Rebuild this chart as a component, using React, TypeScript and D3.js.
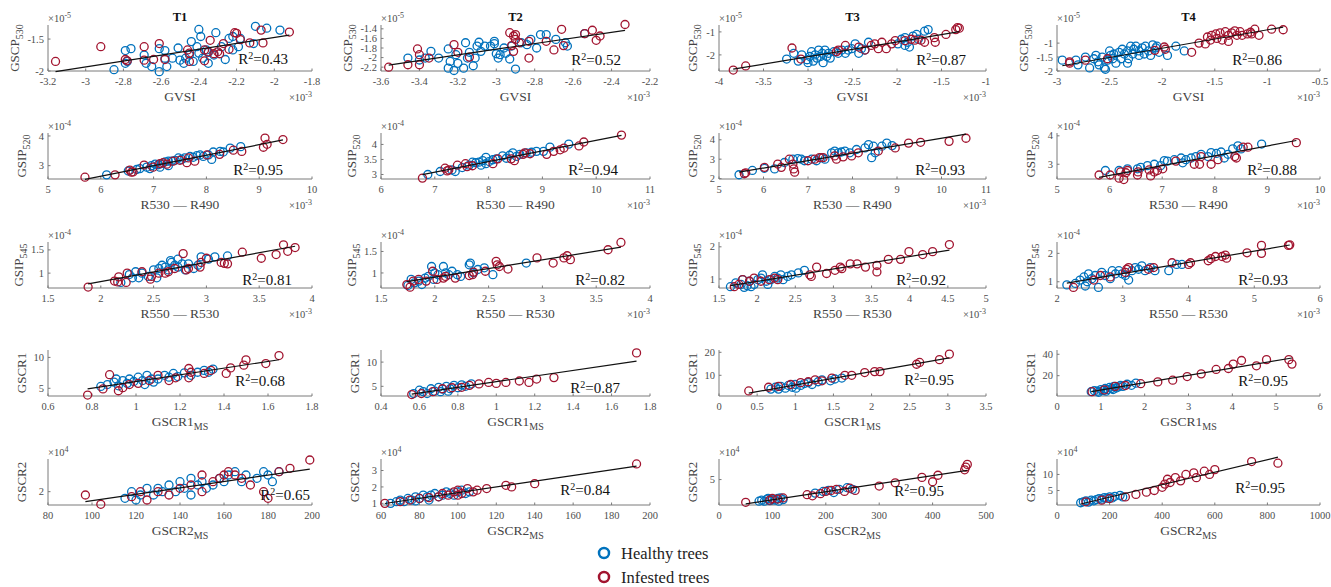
import React from 'react';
import * as d3 from 'd3';

type Pt = [number, number];

// ---------- Row 1: GSCP530 (×1e-5) vs GVSI (×1e-3) ----------
const r1T1Healthy: Pt[] = [[-2.85,-1.98],[-2.79,-1.88],[-2.79,-1.68],[-2.76,-1.65],[-2.78,-1.85],[-2.69,-1.75],[-2.68,-1.88],[-2.65,-1.93],[-2.61,-2.01],[-2.61,-1.65],[-2.58,-1.68],[-2.57,-1.93],[-2.58,-1.8],[-2.51,-1.64],[-2.5,-1.83],[-2.48,-1.88],[-2.45,-1.75],[-2.44,-1.54],[-2.41,-1.62],[-2.4,-1.35],[-2.39,-1.46],[-2.4,-1.72],[-2.38,-1.8],[-2.36,-1.67],[-2.35,-1.88],[-2.31,-1.4],[-2.32,-1.75],[-2.28,-1.62],[-2.26,-1.82],[-2.24,-1.49],[-2.22,-1.46],[-2.19,-1.62],[-2.18,-1.49],[-2.22,-1.67],[-2.1,-1.3],[-2.04,-1.33],[-2.11,-1.57],[-1.97,-1.36],[-2.47,-1.8],[-2.54,-1.8],[-2.43,-1.85],[-2.35,-1.71]];
const r1T1Infested: Pt[] = [[-3.16,-1.85],[-2.92,-1.62],[-2.79,-1.82],[-2.78,-1.84],[-2.69,-1.62],[-2.69,-1.83],[-2.64,-1.82],[-2.61,-1.57],[-2.58,-1.82],[-2.46,-1.67],[-2.45,-1.85],[-2.45,-1.72],[-2.37,-1.84],[-2.35,-1.7],[-2.34,-1.52],[-2.32,-1.73],[-2.3,-1.7],[-2.27,-1.57],[-2.24,-1.66],[-2.21,-1.4],[-2.2,-1.41],[-2.18,-1.51],[-2.13,-1.56],[-2.07,-1.36],[-2.06,-1.56],[-1.92,-1.39],[-2.37,-1.67],[-2.29,-1.73]];
const r1T2Healthy: Pt[] = [[-3.46,-2.01],[-3.4,-2.05],[-3.37,-2.01],[-3.34,-1.87],[-3.3,-2.01],[-3.25,-1.82],[-3.25,-2.22],[-3.24,-2.08],[-3.22,-2.27],[-3.21,-1.94],[-3.2,-2.12],[-3.17,-2.22],[-3.16,-1.69],[-3.15,-2.01],[-3.14,-1.89],[-3.12,-2.17],[-3.11,-2.01],[-3.1,-1.76],[-3.09,-1.68],[-3.08,-1.87],[-3.06,-1.76],[-3.03,-1.76],[-3.01,-1.71],[-3.01,-1.66],[-3.0,-1.92],[-2.99,-2.01],[-2.98,-1.94],[-2.96,-1.8],[-2.95,-1.91],[-2.93,-2.03],[-2.92,-1.76],[-2.9,-2.24],[-2.87,-1.69],[-2.84,-1.73],[-2.82,-1.62],[-2.79,-1.8],[-2.77,-1.52],[-2.74,-1.52],[-2.69,-1.62],[-2.64,-1.69],[-2.63,-1.76],[-2.54,-1.5]];
const r1T2Infested: Pt[] = [[-3.56,-2.2],[-3.46,-2.15],[-3.41,-1.82],[-3.4,-1.94],[-3.4,-2.15],[-3.35,-2.01],[-3.22,-1.73],[-3.2,-1.89],[-3.14,-1.99],[-2.93,-1.48],[-2.91,-1.55],[-2.9,-1.52],[-2.9,-1.62],[-2.92,-1.75],[-2.91,-1.87],[-2.88,-1.69],[-2.83,-2.01],[-2.83,-1.66],[-2.74,-1.66],[-2.7,-1.84],[-2.66,-1.41],[-2.65,-1.75],[-2.54,-1.5],[-2.5,-1.43],[-2.48,-1.64],[-2.46,-1.55],[-2.33,-1.31]];
const r1T3Healthy: Pt[] = [[-3.24,-2.18],[-3.16,-1.93],[-3.11,-2.27],[-3.07,-2.0],[-3.01,-2.21],[-3.0,-2.34],[-2.98,-2.07],[-2.96,-1.86],[-2.94,-2.27],[-2.92,-2.0],[-2.9,-2.14],[-2.88,-1.79],[-2.86,-2.07],[-2.84,-1.93],[-2.83,-2.34],[-2.81,-1.79],[-2.79,-2.07],[-2.77,-1.93],[-2.75,-2.14],[-2.71,-1.86],[-2.66,-1.93],[-2.62,-1.79],[-2.58,-1.93],[-2.55,-1.79],[-2.51,-1.73],[-2.47,-1.52],[-2.43,-1.93],[-2.4,-1.73],[-2.36,-1.79],[-2.32,-1.45],[-1.99,-1.52],[-1.95,-1.32],[-1.91,-1.25],[-1.88,-1.45],[-1.82,-1.18],[-1.78,-1.11],[-1.76,-1.32],[-1.69,-0.97],[-1.65,-0.9],[-1.86,-1.66],[-1.91,-1.59]];
const r1T3Infested: Pt[] = [[-3.84,-2.66],[-3.7,-2.48],[-3.18,-1.7],[-3.08,-2.18],[-2.66,-1.79],[-2.58,-1.59],[-2.43,-1.66],[-2.29,-1.59],[-2.25,-1.52],[-2.21,-1.73],[-2.17,-1.45],[-2.12,-1.73],[-2.06,-1.52],[-2.02,-1.38],[-1.91,-1.38],[-1.84,-1.32],[-1.73,-1.36],[-1.58,-1.25],[-1.45,-1.11],[-1.34,-0.9],[-1.32,-0.81],[-1.3,-0.84],[-1.57,-1.45],[-1.69,-1.45],[-1.8,-1.36],[-2.36,-1.79],[-2.68,-1.86]];
const r1T4Healthy: Pt[] = [[-2.95,-1.61],[-2.82,-1.61],[-2.8,-1.78],[-2.73,-1.5],[-2.69,-1.89],[-2.65,-1.56],[-2.63,-1.44],[-2.61,-1.67],[-2.6,-1.78],[-2.57,-1.5],[-2.55,-1.89],[-2.54,-1.94],[-2.52,-1.61],[-2.5,-1.28],[-2.49,-1.44],[-2.47,-1.56],[-2.46,-1.39],[-2.44,-1.72],[-2.41,-1.33],[-2.39,-1.56],[-2.38,-1.22],[-2.36,-1.39],[-2.33,-1.28],[-2.32,-1.56],[-2.3,-1.11],[-2.28,-1.39],[-2.27,-1.22],[-2.25,-1.11],[-2.22,-1.28],[-2.19,-1.17],[-2.17,-1.39],[-2.16,-1.11],[-2.13,-1.28],[-2.11,-1.44],[-2.09,-1.06],[-2.06,-1.17],[-2.05,-1.11],[-2.03,-1.33],[-1.95,-1.44],[-1.87,-1.11],[-1.79,-1.28],[-2.22,-1.44],[-2.33,-1.72]];
const r1T4Infested: Pt[] = [[-2.88,-1.67],[-2.88,-1.72],[-2.73,-1.61],[-2.52,-1.56],[-2.07,-1.26],[-1.98,-1.14],[-1.97,-1.22],[-1.72,-1.33],[-1.65,-1.0],[-1.59,-1.03],[-1.57,-0.78],[-1.54,-0.89],[-1.53,-0.72],[-1.49,-0.67],[-1.48,-0.83],[-1.45,-0.63],[-1.43,-0.89],[-1.4,-0.59],[-1.37,-0.72],[-1.34,-0.63],[-1.31,-0.56],[-1.29,-0.72],[-1.26,-0.59],[-1.24,-0.72],[-1.19,-0.67],[-1.16,-0.61],[-1.15,-0.67],[-1.12,-0.5],[-1.08,-0.72],[-0.96,-0.5],[-0.85,-0.52],[-1.37,-0.94]];

// ---------- Row 2: GSIP520 (×1e-4) vs R530 — R490 (×1e-3) ----------
const r2T1Healthy: Pt[] = [[6.11,2.69],[6.52,2.82],[6.68,2.87],[6.74,2.9],[6.87,2.95],[6.96,3.0],[7.03,3.05],[7.09,3.03],[7.15,3.07],[7.22,3.13],[7.28,3.15],[7.34,3.15],[7.41,3.18],[7.47,3.26],[7.53,3.21],[7.59,3.26],[7.69,3.31],[7.75,3.28],[7.82,3.34],[7.88,3.36],[7.94,3.31],[8.04,3.36],[8.1,3.21],[8.13,3.46],[8.26,3.48],[8.32,3.46],[8.45,3.59],[8.65,3.64],[7.28,3.0],[7.12,2.95],[6.93,2.9]];
const r2T1Infested: Pt[] = [[5.7,2.61],[6.27,2.69],[6.55,2.85],[6.58,2.78],[6.61,2.79],[6.82,3.02],[6.99,2.95],[7.12,3.07],[7.18,3.1],[7.25,3.05],[7.37,3.15],[7.5,3.18],[7.63,3.1],[7.66,3.26],[7.78,3.15],[8.01,3.36],[8.25,3.38],[8.51,3.52],[8.67,3.48],[9.08,3.62],[9.11,3.93],[9.15,3.72],[9.45,3.88]];
const r2T2Healthy: Pt[] = [[6.87,3.0],[7.1,3.1],[7.32,3.15],[7.38,3.1],[7.51,3.23],[7.64,3.31],[7.76,3.39],[7.82,3.41],[7.86,3.31],[7.89,3.46],[7.95,3.36],[8.01,3.43],[8.08,3.49],[8.14,3.52],[8.26,3.62],[8.33,3.54],[8.39,3.64],[8.45,3.72],[8.52,3.6],[8.58,3.67],[8.7,3.72],[8.8,3.74],[8.89,3.77],[9.02,3.77],[9.14,3.91],[9.49,4.01],[7.95,3.57],[7.7,3.41]];
const r2T2Infested: Pt[] = [[6.77,2.88],[7.19,3.21],[7.23,3.12],[7.26,3.15],[7.42,3.31],[7.57,3.36],[7.6,3.26],[7.7,3.29],[8.08,3.36],[8.17,3.52],[8.42,3.52],[8.48,3.46],[8.64,3.67],[8.67,3.72],[8.77,3.69],[9.08,3.67],[9.21,3.77],[9.33,3.82],[9.4,3.88],[9.68,3.95],[9.77,4.08],[10.47,4.31]];
const r2T3Healthy: Pt[] = [[5.45,2.2],[5.75,2.42],[6.02,2.53],[6.25,2.5],[6.47,2.83],[6.66,3.0],[6.77,3.03],[6.85,3.0],[6.92,2.92],[7.08,3.0],[7.19,2.92],[7.3,3.08],[7.38,3.0],[7.53,3.33],[7.6,3.42],[7.68,3.33],[7.75,3.37],[7.83,3.42],[7.94,3.33],[8.09,3.5],[8.28,3.58],[8.36,3.75],[8.47,3.67],[8.51,3.33],[8.66,3.67],[8.77,3.83],[8.89,3.7],[8.43,3.08]];
const r2T3Infested: Pt[] = [[5.57,2.25],[5.6,2.3],[6.02,2.58],[6.32,2.75],[6.4,2.58],[6.58,3.0],[6.66,2.75],[6.68,2.5],[6.7,2.33],[7.0,2.92],[7.15,3.0],[7.26,3.08],[7.34,3.08],[7.6,3.17],[7.64,3.0],[7.79,3.12],[7.98,3.17],[8.13,3.33],[8.58,3.42],[8.96,3.58],[9.26,3.83],[9.53,3.87],[10.17,3.92],[10.55,4.08]];
const r2T4Healthy: Pt[] = [[5.92,2.78],[6.18,2.78],[6.34,2.84],[6.53,2.84],[6.59,2.89],[6.72,2.95],[6.85,3.0],[6.97,2.95],[7.04,3.13],[7.1,3.11],[7.23,3.16],[7.36,3.22],[7.45,3.16],[7.55,3.22],[7.64,3.27],[7.74,3.35],[7.87,3.27],[7.93,3.41],[8.03,3.38],[8.12,3.43],[8.25,3.35],[8.34,3.54],[8.44,3.65],[8.5,3.54],[8.89,3.71],[7.39,3.05],[8.18,3.22]];
const r2T4Infested: Pt[] = [[5.8,2.62],[6.01,2.62],[6.18,2.51],[6.27,2.46],[6.21,2.73],[6.31,2.7],[6.34,2.78],[6.53,2.62],[6.54,2.73],[6.75,2.8],[6.78,2.59],[6.85,2.73],[6.91,2.78],[7.01,2.84],[7.26,3.11],[7.61,3.0],[7.71,3.0],[7.74,3.27],[7.93,3.0],[8.06,3.16],[8.38,3.27],[8.41,3.22],[8.54,3.6],[8.63,3.6],[9.55,3.76]];

// ---------- Row 3: GSIP545 (×1e-4) vs R550 — R530 (×1e-3) ----------
const r3T1Healthy: Pt[] = [[2.19,0.8],[2.27,0.97],[2.33,1.03],[2.36,0.9],[2.39,1.0],[2.45,0.93],[2.5,1.07],[2.55,1.1],[2.58,1.17],[2.61,1.13],[2.64,1.07],[2.67,1.23],[2.7,1.17],[2.73,1.13],[2.77,1.2],[2.8,1.07],[2.83,1.2],[2.88,1.1],[2.92,1.17],[2.95,1.35],[3.02,1.3],[3.08,1.35],[3.2,1.37],[2.73,1.3],[2.53,0.9],[2.66,1.27],[2.3,0.9]];
const r3T1Infested: Pt[] = [[1.88,0.7],[2.13,0.83],[2.17,0.92],[2.16,0.81],[2.24,0.8],[2.25,1.0],[2.39,1.03],[2.47,0.87],[2.48,0.93],[2.55,1.0],[2.61,1.0],[2.64,1.03],[2.7,1.1],[2.78,1.42],[2.81,1.07],[2.83,1.1],[2.94,1.13],[2.95,1.23],[3.0,1.32],[3.14,1.23],[3.17,1.21],[3.2,1.2],[3.34,1.45],[3.52,1.32],[3.66,1.4],[3.73,1.61],[3.77,1.47],[3.84,1.55]];
const r3T2Healthy: Pt[] = [[1.75,0.71],[1.78,0.85],[1.81,0.77],[1.85,0.81],[1.88,0.73],[1.91,0.88],[1.94,0.92],[1.97,1.15],[1.99,0.85],[2.0,1.0],[2.03,0.96],[2.08,1.15],[2.1,1.0],[2.13,0.96],[2.16,1.04],[2.21,0.96],[2.24,0.92],[2.32,1.19],[2.33,1.23],[2.36,1.0],[2.4,1.08],[2.46,1.12],[2.54,0.96],[2.85,1.23]];
const r3T2Infested: Pt[] = [[1.74,0.73],[1.77,0.67],[1.8,0.81],[1.85,0.85],[1.92,0.81],[1.98,1.04],[2.02,0.85],[2.08,0.88],[2.1,0.92],[2.19,0.88],[2.32,0.94],[2.35,0.96],[2.36,1.02],[2.47,1.04],[2.57,1.27],[2.58,1.19],[2.6,1.15],[2.68,1.09],[2.95,1.35],[3.1,1.23],[3.2,1.35],[3.23,1.4],[3.26,1.31],[3.61,1.54],[3.73,1.71]];
const r3T3Healthy: Pt[] = [[1.65,0.76],[1.72,0.88],[1.79,0.83],[1.83,0.74],[1.87,0.79],[1.9,0.93],[1.92,0.76],[1.96,0.83],[2.01,0.98],[2.05,1.03],[2.07,1.13],[2.12,0.93],[2.18,0.98],[2.23,1.08],[2.27,1.03],[2.31,1.13],[2.34,0.98],[2.4,1.08],[2.45,1.13],[2.54,1.19],[2.62,1.27],[1.81,0.98],[2.14,0.83]];
const r3T3Infested: Pt[] = [[1.7,0.76],[1.76,0.83],[1.81,0.98],[1.9,0.93],[1.96,1.03],[2.05,0.93],[2.16,0.98],[2.23,1.03],[2.27,0.98],[2.69,1.13],[2.71,1.08],[2.78,1.37],[2.91,1.17],[3.02,1.27],[3.09,1.37],[3.11,1.32],[3.22,1.47],[3.31,1.47],[3.42,1.37],[3.57,1.22],[3.57,1.42],[3.72,1.61],[3.88,1.61],[3.99,1.85],[4.17,1.76],[4.3,1.85],[4.52,2.07]];
const r3T4Healthy: Pt[] = [[2.15,0.89],[2.28,0.94],[2.35,1.06],[2.41,1.17],[2.46,1.0],[2.48,1.28],[2.53,1.11],[2.58,1.22],[2.63,0.8],[2.68,1.33],[2.73,1.22],[2.81,1.11],[2.84,1.39],[2.89,1.28],[2.94,1.39],[2.99,1.28],[3.04,1.22],[3.09,1.06],[3.14,1.39],[3.19,1.5],[3.24,1.44],[3.29,1.56],[3.34,1.39],[3.42,1.5],[3.49,1.39],[3.7,1.39],[3.82,1.61],[3.9,1.61],[2.43,0.85]];
const r3T4Infested: Pt[] = [[2.25,0.8],[2.56,1.06],[2.66,1.22],[2.81,1.17],[3.04,1.33],[3.06,1.44],[3.09,1.5],[3.39,1.44],[3.47,1.5],[3.75,1.67],[4.0,1.61],[4.03,1.67],[4.3,1.74],[4.34,1.81],[4.41,1.89],[4.51,1.89],[4.56,1.94],[4.58,1.83],[4.89,2.02],[5.11,2.28],[5.11,2.0],[5.52,2.28],[5.54,2.3]];

// ---------- Row 4: GSCR1 vs GSCR1_MS ----------
const r4T1Healthy: Pt[] = [[0.84,5.3],[0.87,5.6],[0.9,6.0],[0.92,5.4],[0.94,6.25],[0.96,5.8],[0.97,6.5],[0.99,6.1],[1.01,6.8],[1.03,6.25],[1.05,7.1],[1.07,6.5],[1.08,6.0],[1.1,6.5],[1.13,7.1],[1.15,6.8],[1.17,7.4],[1.19,6.9],[1.22,7.5],[1.25,7.1],[1.28,7.6],[1.31,7.9],[1.33,7.6],[1.35,8.1],[1.04,5.6],[0.91,6.5]];
const r4T1Infested: Pt[] = [[0.78,3.9],[0.85,4.9],[0.88,7.2],[0.94,5.1],[0.97,5.6],[1.01,5.8],[1.06,6.25],[1.1,7.1],[1.15,6.25],[1.18,6.7],[1.24,8.2],[1.25,7.6],[1.31,7.4],[1.34,7.9],[1.41,7.4],[1.43,8.3],[1.49,8.75],[1.5,9.6],[1.59,9.0],[1.65,10.3],[1.24,6.7],[0.92,4.6]];
const r4T2Healthy: Pt[] = [[0.57,3.5],[0.6,4.2],[0.62,3.9],[0.66,4.5],[0.68,4.0],[0.7,4.8],[0.72,4.4],[0.74,5.0],[0.76,4.5],[0.78,5.2],[0.8,4.7],[0.82,5.3],[0.84,5.0],[0.87,5.5],[0.71,3.9],[0.64,3.5],[0.75,4.0]];
const r4T2Infested: Pt[] = [[0.56,3.3],[0.61,3.5],[0.67,3.9],[0.72,4.5],[0.77,4.7],[0.82,4.8],[0.86,5.2],[0.91,5.5],[0.96,5.8],[1.0,5.6],[1.05,5.8],[1.12,6.1],[1.17,5.8],[1.21,6.5],[1.3,6.8],[1.73,11.9]];
const r4T3Healthy: Pt[] = [[0.68,4.0],[0.74,4.8],[0.81,5.2],[0.87,4.4],[0.91,5.6],[0.96,4.8],[1.0,6.0],[1.07,5.6],[1.12,6.4],[1.17,6.8],[1.22,6.0],[1.3,7.2],[1.35,8.0],[1.46,7.6],[1.52,8.4],[1.61,8.8],[0.78,4.0],[1.01,4.4]];
const r4T3Infested: Pt[] = [[0.39,3.2],[0.65,4.8],[0.78,5.2],[0.94,6.0],[1.07,6.8],[1.17,7.2],[1.26,8.0],[1.35,7.6],[1.48,8.8],[1.65,10.0],[1.74,10.0],[1.91,11.2],[2.04,11.6],[2.11,11.6],[2.59,14.8],[2.63,15.6],[2.89,16.8],[3.02,19.2]];
const r4T4Healthy: Pt[] = [[0.78,5],[0.85,6],[0.92,5.5],[1.0,7],[1.05,6],[1.1,8],[1.15,7],[1.2,9],[1.25,8],[1.3,10],[1.35,8.5],[1.4,9.5],[1.45,11],[1.5,10],[1.6,12],[1.7,11],[1.8,13],[0.95,4.5],[1.12,5.5],[1.28,7.0]];
const r4T4Infested: Pt[] = [[0.8,5.0],[1.08,6.7],[1.33,10.0],[1.56,10.8],[1.91,12.5],[2.3,14.2],[2.64,15.8],[2.97,19.2],[3.29,21.7],[3.63,25.8],[3.91,26.7],[4.02,30.8],[4.21,34.2],[4.55,29.2],[4.78,35.0],[5.29,35.0],[5.36,30.8]];

// ---------- Row 5: GSCR2 (×1e4) vs GSCR2_MS ----------
const r5T1Healthy: Pt[] = [[115,1.8],[118,2.0],[122,1.9],[125,2.1],[128,1.9],[130,2.1],[132,2.0],[135,2.2],[138,2.0],[140,2.3],[142,2.1],[145,2.4],[145,1.9],[148,2.2],[150,2.3],[152,2.1],[155,2.2],[158,2.4],[160,2.3],[162,2.5],[165,2.6],[168,2.3],[170,2.5],[175,2.4],[178,2.6],[180,2.5],[182,2.3],[185,2.6],[120,1.75]];
const r5T1Infested: Pt[] = [[97,1.9],[104,1.62],[118,1.85],[122,2.0],[130,2.0],[135,1.9],[140,2.1],[145,2.2],[150,2.0],[155,2.3],[158,2.4],[160,2.5],[162,2.6],[165,2.5],[168,2.4],[172,2.2],[178,2.0],[180,1.8],[185,2.6],[190,2.7],[199,2.95],[150,2.5],[125,1.75]];
const r5T2Healthy: Pt[] = [[65,1.0],[68,1.1],[70,1.2],[72,1.1],[74,1.3],[76,1.2],[78,1.4],[80,1.3],[82,1.5],[84,1.4],[86,1.5],[88,1.6],[90,1.4],[92,1.5],[94,1.7],[96,1.6],[98,1.5],[100,1.7],[102,1.8],[104,1.6],[106,1.7],[85,1.2],[78,1.15]];
const r5T2Infested: Pt[] = [[62,1.0],[70,1.1],[75,1.2],[80,1.3],[85,1.35],[90,1.4],[92,1.6],[95,1.5],[98,1.7],[100,1.8],[102,1.6],[105,1.9],[108,1.7],[110,1.8],[115,1.9],[125,2.1],[128,2.0],[140,2.2],[193,3.4],[100,1.5]];
const r5T3Healthy: Pt[] = [[75,1.0],[80,1.2],[85,1.0],[90,1.4],[95,1.1],[100,1.3],[105,1.2],[110,1.5],[115,1.6],[120,1.3],[180,2.5],[195,2.8],[205,3.0],[215,2.6],[225,3.2],[240,3.5],[250,3.2],[92,1.5],[112,1.0]];
const r5T3Infested: Pt[] = [[50,0.8],[95,1.2],[100,1.5],[110,1.4],[120,1.6],[165,2.2],[175,2.0],[190,2.4],[200,2.8],[210,3.0],[220,3.2],[235,2.8],[245,3.4],[255,3.0],[300,3.8],[330,4.4],[380,5.4],[400,4.6],[460,6.8],[462,7.3],[465,7.8],[410,5.8]];
const r5T4Healthy: Pt[] = [[90,1.2],[100,1.5],[110,1.8],[120,1.4],[130,2.0],[140,1.8],[150,2.2],[160,2.5],[170,2.3],[180,2.8],[190,2.6],[200,3.0],[210,2.7],[220,3.2],[240,3.5],[250,3.0]];
const r5T4Infested: Pt[] = [[110,1.5],[170,2.0],[200,2.5],[260,3.0],[300,3.8],[340,4.5],[370,5.0],[400,6.0],[410,7.0],[420,8.5],[430,7.5],[450,9.0],[470,8.0],[490,10.0],[520,10.5],[530,9.0],[560,11.0],[580,10.0],[600,11.5],[740,14.0],[840,13.5]];

// ---------- labels & axes ----------
const titles = ['T1', 'T2', 'T3', 'T4'];
const rowYLabels: [string, string][] = [['GSCP', '530'], ['GSIP', '520'], ['GSIP', '545'], ['GSCR1', ''], ['GSCR2', '']];
const rowXLabels: [string, string][] = [['GVSI', ''], ['R530 — R490', ''], ['R550 — R530', ''], ['GSCR1', 'MS'], ['GSCR2', 'MS']];
const rowYExp = ['-5', '-4', '-4', '', '4'];
const rowXExp = ['-3', '-3', '-3', '', ''];
const r2Labels = ['0.43', '0.52', '0.87', '0.86', '0.95', '0.94', '0.93', '0.88', '0.81', '0.82', '0.92', '0.93', '0.68', '0.87', '0.95', '0.95', '0.65', '0.84', '0.95', '0.95'];

const xDomains: [number, number][] = [
  [-3.2, -1.8], [-3.6, -2.2], [-4, -1], [-3, -0.5],
  [5, 10], [6, 11], [5, 11], [5, 10],
  [1.5, 4], [1.5, 4], [1.5, 5], [2, 6],
  [0.6, 1.8], [0.4, 1.8], [0, 3.5], [0, 6],
  [80, 200], [60, 200], [0, 500], [0, 1000],
];
const xTickSteps = [0.2, 0.2, 0.5, 0.5, 1, 1, 1, 1, 0.5, 0.5, 0.5, 1, 0.2, 0.2, 0.5, 1, 20, 20, 100, 200];
const yDomains: [number, number][] = [
  [-2.0, -1.28], [-2.28, -1.32], [-2.7, -0.7], [-2.0, -0.35],
  [2.55, 4.1], [2.85, 4.38], [1.98, 4.35], [2.48, 4.1],
  [0.68, 1.67], [0.65, 1.72], [0.72, 2.15], [0.78, 2.4],
  [3.75, 11.2], [3.0, 12.5], [1, 21], [1, 44],
  [1.6, 2.98], [0.9, 3.7], [0.3, 8.8], [0.5, 14.8],
];
const yTickVals: number[][] = [
  [-2, -1.5], [-2.2, -2, -1.8, -1.6, -1.4], [-2, -1], [-2, -1.5, -1],
  [3, 4], [3, 3.5, 4], [2, 3, 4], [3, 4],
  [1, 1.5], [1, 1.5], [1, 2], [1, 2],
  [5, 10], [5, 10], [10, 20], [20, 40],
  [2], [1, 2, 3], [5], [5, 10],
];

const healthySets: Pt[][] = [
  r1T1Healthy, r1T2Healthy, r1T3Healthy, r1T4Healthy,
  r2T1Healthy, r2T2Healthy, r2T3Healthy, r2T4Healthy,
  r3T1Healthy, r3T2Healthy, r3T3Healthy, r3T4Healthy,
  r4T1Healthy, r4T2Healthy, r4T3Healthy, r4T4Healthy,
  r5T1Healthy, r5T2Healthy, r5T3Healthy, r5T4Healthy,
];
const infestedSets: Pt[][] = [
  r1T1Infested, r1T2Infested, r1T3Infested, r1T4Infested,
  r2T1Infested, r2T2Infested, r2T3Infested, r2T4Infested,
  r3T1Infested, r3T2Infested, r3T3Infested, r3T4Infested,
  r4T1Infested, r4T2Infested, r4T3Infested, r4T4Infested,
  r5T1Infested, r5T2Infested, r5T3Infested, r5T4Infested,
];

// ---------- layout ----------
const COLS: [number, number][] = [[48, 312], [381, 650], [719, 986], [1057, 1320]];
const ROW_BOTTOMS = [71, 179, 288, 396, 505];
const PLOT_H = 46;
const R2_RIGHT_OFFSET = [24, 29, 20, 38, 29, 32, 21, 23, 20, 25, 40, 32, 27, 30, 32, 32, 2, 40, 42, 35];
const R2_BASE_OFFSET = [7, 6, 6, 6, 4, 4, 4, 4, 3, 3, 3, 3, 10, 3, 11, 10, 5, 10, 9, 12];

const BLUE = '#0072BD';
const RED = '#A2142F';
const AXIS = '#7a7a7a';
const TICKTXT = '#4d4d4d';
const FONT = 'Liberation Serif, DejaVu Serif, serif';
const TICK_FS = 10.5;

const fmt = (v: number) => String(+v.toFixed(3));
// rough width of a tick label in px (Times-like metrics)
const labelWidth = (s: string) => s.split('').reduce((w, c) => w + (c === '.' ? 0.25 : c === '-' ? 0.33 : 0.5) * TICK_FS, 0);

function fitLine(pts: Pt[]): Pt[] {
  const mx = d3.mean(pts, p => p[0]) as number;
  const my = d3.mean(pts, p => p[1]) as number;
  const sxy = d3.sum(pts, p => (p[0] - mx) * (p[1] - my));
  const sxx = d3.sum(pts, p => (p[0] - mx) ** 2);
  const b = sxy / sxx;
  const a = my - b * mx;
  const [x0, x1] = d3.extent(pts, p => p[0]) as [number, number];
  return [[x0, a + b * x0], [x1, a + b * x1]];
}

function Panel({ idx }: { idx: number }) {
  const row = Math.floor(idx / 4);
  const col = idx % 4;
  const [left, right] = COLS[col];
  const bottom = ROW_BOTTOMS[row];
  const top = bottom - PLOT_H;
  const x = d3.scaleLinear().domain(xDomains[idx]).range([left, right]);
  const y = d3.scaleLinear().domain(yDomains[idx]).range([bottom, top]);
  const [d0, d1] = xDomains[idx];
  const step = xTickSteps[idx];
  const xt = d3.range(0, Math.round((d1 - d0) / step) + 1).map(i => d0 + i * step);
  const healthy = healthySets[idx];
  const infested = infestedSets[idx];
  const fit = fitLine([...healthy, ...infested]);
  const line = d3.line<Pt>().x(p => x(p[0])).y(p => y(p[1]));
  const [yl, ys] = rowYLabels[row];
  const [xl, xs] = rowXLabels[row];
  const midY = (top + bottom) / 2;
  const maxTickW = d3.max(yTickVals[idx], t => labelWidth(fmt(t))) as number;
  const ylx = Math.min(left - 22, left - 4 - maxTickW - 8);
  return (
    <g fontFamily={FONT}>
      {row === 0 && (
        <text x={(left + right) / 2} y={top - 4} textAnchor="middle" fontWeight="bold" fontSize={12.5} fill="#111" fontFamily={FONT}>{titles[col]}</text>
      )}
      <line x1={left} x2={right} y1={bottom} y2={bottom} stroke={AXIS} strokeWidth={1} />
      <line x1={left} x2={left} y1={top} y2={bottom} stroke={AXIS} strokeWidth={1} />
      {xt.map((t, i) => (
        <g key={'xt' + i}>
          <line x1={x(t)} x2={x(t)} y1={bottom} y2={bottom - 2.5} stroke={AXIS} />
          <text x={x(t)} y={bottom + 14} textAnchor="middle" fontSize={TICK_FS} fill={TICKTXT} fontFamily={FONT}>{fmt(t)}</text>
        </g>
      ))}
      {yTickVals[idx].map((t, i) => (
        <g key={'yt' + i}>
          <line x1={left} x2={left + 2.5} y1={y(t)} y2={y(t)} stroke={AXIS} />
          <text x={left - 4} y={y(t) + 3.6} textAnchor="end" fontSize={TICK_FS} fill={TICKTXT} fontFamily={FONT}>{fmt(t)}</text>
        </g>
      ))}
      {rowYExp[row] && (
        <text x={left} y={top - 3} fontSize={10.5} fill={TICKTXT} fontFamily={FONT}>
          ×10<tspan dy={-4} fontSize={8}>{rowYExp[row]}</tspan>
        </text>
      )}
      {rowXExp[row] && (
        <text x={right} y={bottom + 30} textAnchor="end" fontSize={10.5} fill={TICKTXT} fontFamily={FONT}>
          ×10<tspan dy={-4} fontSize={8}>{rowXExp[row]}</tspan>
        </text>
      )}
      <text x={(left + right) / 2} y={bottom + 30} textAnchor="middle" fontSize={13.5} fill="#444" fontFamily={FONT}>
        {xl}{xs && <tspan dy={4} fontSize={10}>{xs}</tspan>}
      </text>
      <text transform={`translate(${ylx},${midY}) rotate(-90)`} textAnchor="middle" fontSize={13} fill="#444" fontFamily={FONT}>
        {yl}{ys && <tspan dy={4} fontSize={10}>{ys}</tspan>}
      </text>
      {healthy.map((p, i) => (
        <circle key={'h' + i} cx={x(p[0])} cy={y(p[1])} r={4} fill="none" stroke={BLUE} strokeWidth={1.3} />
      ))}
      {infested.map((p, i) => (
        <circle key={'i' + i} cx={x(p[0])} cy={y(p[1])} r={4} fill="none" stroke={RED} strokeWidth={1.3} />
      ))}
      <path d={line(fit) || ''} stroke="#111" strokeWidth={1.2} fill="none" />
      <text x={right - R2_RIGHT_OFFSET[idx]} y={bottom - R2_BASE_OFFSET[idx]} textAnchor="end" fontSize={15} fill="#111" fontFamily={FONT}>
        R<tspan dy={-5} fontSize={10}>2</tspan><tspan dy={5}>={r2Labels[idx]}</tspan>
      </text>
    </g>
  );
}

export default function App() {
  return (
    <svg width={1331} height={587} style={{ position: 'absolute', left: 0, top: 0, background: '#fff' }} fontFamily={FONT}>
      <rect width={1331} height={587} fill="#fff" />
      {d3.range(20).map(i => <Panel key={i} idx={i} />)}
      <circle cx={604} cy={553} r={5} fill="none" stroke={BLUE} strokeWidth={2.5} />
      <text x={621} y={559} fontSize={16.5} fill="#222" fontFamily={FONT}>Healthy trees</text>
      <circle cx={604} cy={577} r={5} fill="none" stroke={RED} strokeWidth={2.5} />
      <text x={621} y={583} fontSize={16.5} fill="#222" fontFamily={FONT}>Infested trees</text>
    </svg>
  );
}
